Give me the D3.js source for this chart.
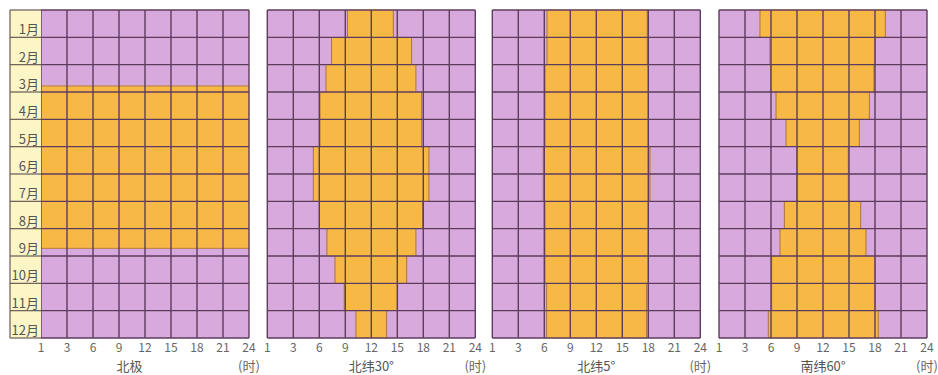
<!DOCTYPE html>
<html>
<head>
<meta charset="utf-8">
<script src="https://cdn.jsdelivr.net/npm/d3@7"></script>
<style>
  html, body { margin: 0; padding: 0; background: #ffffff; }
  svg { display: block; font-family: "Noto Sans CJK SC", "Noto Sans", sans-serif; }
</style>
</head>
<body>
<svg id="chart" width="938" height="375"></svg>
<script>
// ---- data ----
const months = ["1月","2月","3月","4月","5月","6月","7月","8月","9月","10月","11月","12月"];
const hourTicks = [0, 3, 6, 9, 12, 15, 18, 21, 24];
const hourTickLabels = ["1", "3", "6", "9", "12", "15", "18", "21", "24"];
const panelNames = ["北极", "北纬30°", "北纬5°", "南纬60°"];
const unitLabel = "(时)";

// North pole: continuous daylight between these month positions (0 = start of Jan, 12 = end of Dec)
const polarDayStart = 2.78;
const polarDayEnd = 8.72;

// daylight start / end hour per month
const n30Rise = [9.25, 7.42, 6.77, 6.08, 6.08, 5.31, 5.31, 6.0, 6.88, 7.81, 8.88, 10.23];
const n30Set  = [14.54, 16.65, 17.15, 17.81, 17.81, 18.65, 18.65, 17.92, 17.15, 16.08, 15.04, 13.77];
const n5Rise  = [6.31, 6.31, 6.08, 6.08, 6.08, 5.88, 5.88, 6.08, 6.08, 6.08, 6.27, 6.27];
const n5Set   = [17.88, 17.88, 18.0, 18.0, 18.0, 18.19, 18.19, 18.0, 18.0, 18.0, 17.81, 17.81];
const s60Rise = [4.73, 5.88, 5.96, 6.58, 7.73, 9.0, 9.0, 7.54, 7.04, 6.08, 6.08, 5.69];
const s60Set  = [19.19, 18.0, 17.88, 17.35, 16.19, 14.92, 14.92, 16.35, 16.96, 18.0, 18.0, 18.38];

// ---- layout ----
const svg = d3.select("#chart");
const panelLefts = [41, 267.3, 492.3, 719];
const panelW = 208, topY = 10, panelH = 328;
const purple = "#d8a9dd", orange = "#f8b846", gridColor = "#5e3d5c";
const labelBg = "#fcf5c6";

const x = d3.scaleLinear().domain([0, 24]).range([0, panelW]);
const y = d3.scaleLinear().domain([0, 12]).range([0, panelH]);

const panelsData = [
  [{ m0: polarDayStart, m1: polarDayEnd, h0: 0, h1: 24 }],
  months.map((m, i) => ({ m0: i, m1: i + 1, h0: n30Rise[i], h1: n30Set[i] })),
  months.map((m, i) => ({ m0: i, m1: i + 1, h0: n5Rise[i], h1: n5Set[i] })),
  months.map((m, i) => ({ m0: i, m1: i + 1, h0: s60Rise[i], h1: s60Set[i] }))
];

panelLefts.forEach((left, p) => {
  const g = svg.append("g").attr("transform", `translate(${left},${topY})`);

  g.append("rect").attr("x", 0).attr("y", 0).attr("width", panelW).attr("height", panelH)
    .attr("fill", purple);

  g.selectAll("rect.day").data(panelsData[p]).join("rect")
    .attr("class", "day")
    .attr("x", d => x(d.h0)).attr("width", d => x(d.h1) - x(d.h0))
    .attr("y", d => y(d.m0)).attr("height", d => y(d.m1) - y(d.m0))
    .attr("fill", orange)
    .attr("stroke", orange).attr("stroke-width", 0.6);

  // outline edges of daylight
  g.selectAll("line.edgeL").data(panelsData[p].filter(d => d.h0 > 0)).join("line")
    .attr("class", "edgeL")
    .attr("x1", d => x(d.h0)).attr("x2", d => x(d.h0))
    .attr("y1", d => y(d.m0)).attr("y2", d => y(d.m1))
    .attr("stroke", "#8a5a3a").attr("stroke-width", 1).attr("opacity", 0.7);
  g.selectAll("line.edgeR").data(panelsData[p].filter(d => d.h1 < 24)).join("line")
    .attr("class", "edgeR")
    .attr("x1", d => x(d.h1)).attr("x2", d => x(d.h1))
    .attr("y1", d => y(d.m0)).attr("y2", d => y(d.m1))
    .attr("stroke", "#8a5a3a").attr("stroke-width", 1).attr("opacity", 0.7);
  if (p === 0) {
    g.selectAll("line.edgeH").data([polarDayStart, polarDayEnd]).join("line")
      .attr("class", "edgeH")
      .attr("x1", 0).attr("x2", panelW)
      .attr("y1", d => y(d)).attr("y2", d => y(d))
      .attr("stroke", "#8a5a3a").attr("stroke-width", 1).attr("opacity", 0.6);
  }

  // grid
  g.selectAll("line.v").data(hourTicks).join("line")
    .attr("class", "v")
    .attr("x1", d => x(d)).attr("x2", d => x(d))
    .attr("y1", 0).attr("y2", panelH)
    .attr("stroke", gridColor).attr("stroke-width", 1.4);
  g.selectAll("line.h").data(d3.range(13)).join("line")
    .attr("class", "h")
    .attr("x1", 0).attr("x2", panelW)
    .attr("y1", d => y(d)).attr("y2", d => y(d))
    .attr("stroke", gridColor).attr("stroke-width", 1.4);

  // tick labels
  g.selectAll("text.tick").data(hourTicks).join("text")
    .attr("class", "tick")
    .attr("x", d => x(d)).attr("y", panelH + 14)
    .attr("text-anchor", "middle")
    .attr("font-size", 12).attr("fill", "#666")
    .text((d, i) => hourTickLabels[i]);

  // unit label
  g.append("text").attr("x", panelW).attr("y", panelH + 33)
    .attr("text-anchor", "middle").attr("font-size", 13).attr("fill", "#666")
    .text(unitLabel);

  // panel name
  const cx = p === 0 ? (panelW - 31) / 2 : panelW / 2;
  g.append("text").attr("x", cx).attr("y", panelH + 33)
    .attr("text-anchor", "middle").attr("font-size", 13).attr("fill", "#555")
    .text(panelNames[p]);

  if (p === 0) {
    const lg = g.append("g").attr("transform", "translate(-31,0)");
    lg.append("rect").attr("x", 0).attr("y", 0).attr("width", 31).attr("height", panelH)
      .attr("fill", labelBg);
    lg.selectAll("line.lh").data(d3.range(13)).join("line")
      .attr("class", "lh")
      .attr("x1", 0).attr("x2", 31)
      .attr("y1", d => y(d)).attr("y2", d => y(d))
      .attr("stroke", "#6b5a55").attr("stroke-width", 1.2);
    lg.append("line").attr("x1", 0).attr("x2", 0).attr("y1", 0).attr("y2", panelH)
      .attr("stroke", "#6b5a55").attr("stroke-width", 1.2);
    lg.selectAll("text.m").data(months).join("text")
      .attr("class", "m")
      .attr("x", 29).attr("y", (d, i) => y(i + 1) - 3)
      .attr("text-anchor", "end").attr("font-size", 13).attr("fill", "#555")
      .text(d => d);
  }
});
</script>
</body>
</html>
